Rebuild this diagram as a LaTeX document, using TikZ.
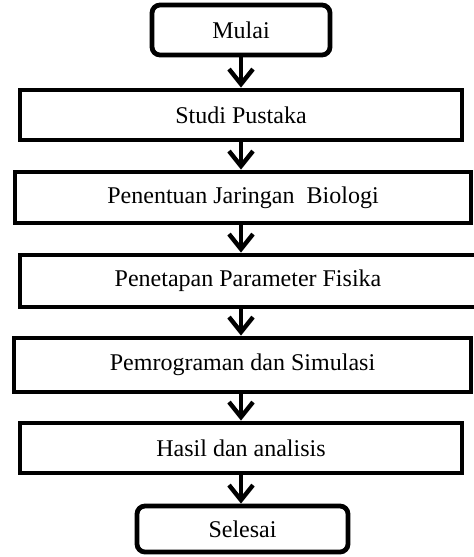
\documentclass[tikz,border=0pt]{standalone}
\usepackage{fontspec}
\setmainfont{Liberation Serif}
\usetikzlibrary{arrows.meta}

\tikzset{
  box/.style={draw,line width=2.4pt,minimum height=25pt,inner sep=0pt,
    font=\fontsize{12}{14}\selectfont},
  term/.style={box,rounded corners=4pt},
  arr/.style={line width=2.2pt,-{Straight Barb[length=7.5pt,width=12pt,line width=2.2pt]}}
}

\begin{document}
\begin{tikzpicture}[x=0.5pt,y=-0.5pt]
  \useasboundingbox (0,0) rectangle (473,557);
  \node[term,minimum width=89pt] (mulai) at (241,30) {Mulai};
  \node[box,minimum width=221pt] (studi) at (241,115) {Studi Pustaka};
  \node[box,minimum width=228pt,minimum height=25.5pt] (jaringan) at (243,197.5) {Penentuan Jaringan\ \ Biologi};
  \node[box,minimum width=228pt,minimum height=26pt] (parameter) at (248,281) {Penetapan Parameter Fisika};
  \node[box,minimum width=228.5pt,minimum height=27pt] (program) at (242.5,365) {Pemrograman dan Simulasi};
  \node[box,minimum width=221pt] (hasil) at (241,448) {Hasil dan analisis};
  \node[term,minimum width=105.5pt,minimum height=23pt] (selesai) at (242.5,529) {Selesai};

  \draw[arr] (mulai.south) -- (mulai.south |- studi.north);
  \draw[arr] (studi.south) -- (studi.south |- jaringan.north);
  \draw[arr] (studi.south |- jaringan.south) -- (studi.south |- parameter.north);
  \draw[arr] (studi.south |- parameter.south) -- (studi.south |- program.north);
  \draw[arr] (studi.south |- program.south) -- (studi.south |- hasil.north);
  \draw[arr] (hasil.south) -- (hasil.south |- selesai.north);
\end{tikzpicture}
\end{document}
